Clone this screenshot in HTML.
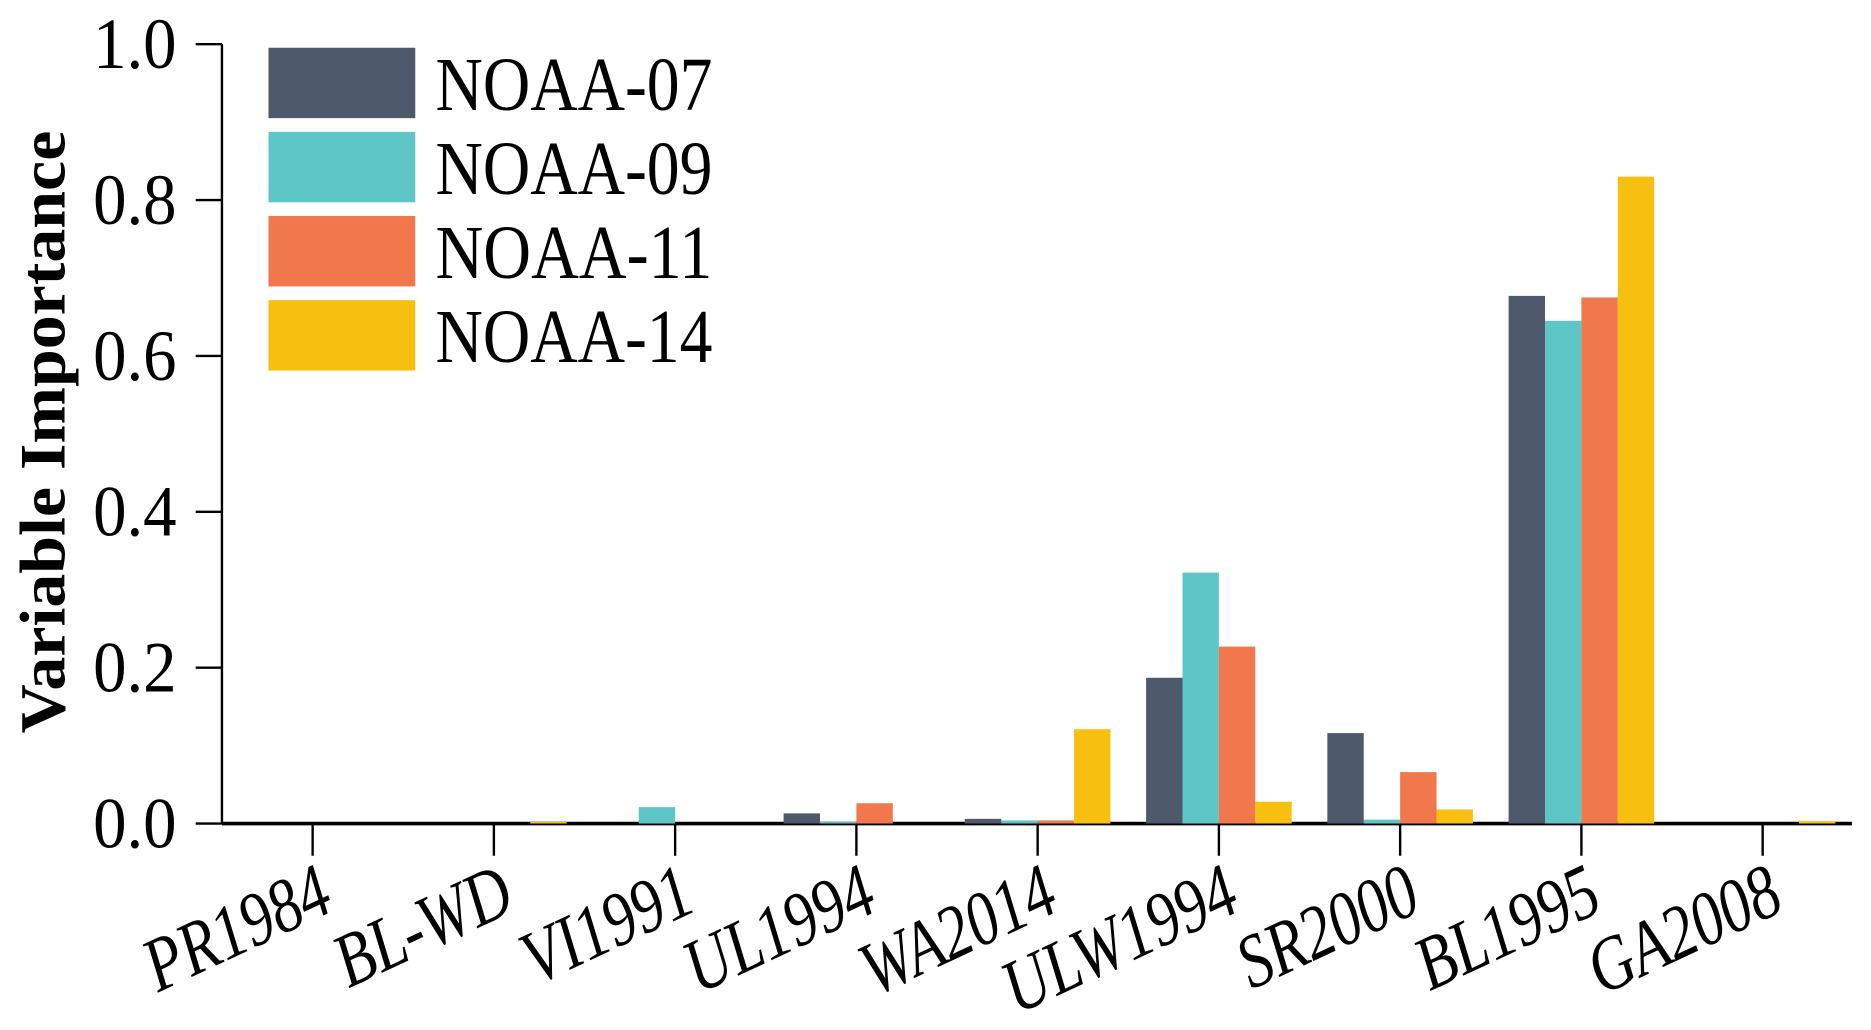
<!DOCTYPE html>
<html><head><meta charset="utf-8"><style>
html,body{margin:0;padding:0;background:#fff;}
svg{display:block;font-family:"Liberation Serif",serif;}
</style></head><body>
<svg id="chart" width="1871" height="1030" viewBox="0 0 1568 863" preserveAspectRatio="none" xmlns="http://www.w3.org/2000/svg">
<g id="axes"></g><g id="bars"></g><g id="legend"></g>
</svg>
<script>
const categories = ["PR1984","BL-WD","VI1991","UL1994","WA2014","ULW1994","SR2000","BL1995","GA2008"];
const seriesNames = ["NOAA-07","NOAA-09","NOAA-11","NOAA-14"];
const noaa07 = [0, 0, 0, 0.013, 0.006, 0.187, 0.116, 0.677, 0];
const noaa09 = [0, 0, 0.021, 0.002, 0.004, 0.322, 0.005, 0.645, 0];
const noaa11 = [0, 0, 0, 0.026, 0.004, 0.227, 0.066, 0.675, 0];
const noaa14 = [0, 0.002, 0, 0, 0.121, 0.028, 0.018, 0.830, 0.003];
const yTicks = [0.0, 0.2, 0.4, 0.6, 0.8, 1.0];
const yTickLabels = ["0.0","0.2","0.4","0.6","0.8","1.0"];
const colors = ["#4e596b","#5fc6c8","#f1774c","#f7bf10"];

const NS = "http://www.w3.org/2000/svg";
const X0 = 186, XR = 1552, Y0 = 690, Y1 = 37;
const firstTick = 262, step = 151.9, barW = 30.5;
function yScale(v){ return Y0 - v * (Y0 - Y1); }
function xScale(i){ return firstTick + i * step; }
function mk(tag, attrs, parent){ const e = document.createElementNS(NS, tag); for (const k in attrs) e.setAttribute(k, attrs[k]); parent.appendChild(e); return e; }

const axes = document.getElementById('axes');
const bars = document.getElementById('bars');
const legend = document.getElementById('legend');

const ya = mk('line', {x1:X0, y1:Y1, x2:X0, y2:Y0, stroke:'#000','stroke-width':2}, axes);


yTicks.forEach((t, i) => {
  const y = yScale(t);
  const tk = mk('line', {x1:164, y1:y, x2:X0, y2:y, stroke:'#000','stroke-width':2}, axes);
  
  
  const lb = mk('text', {x:78, y:y+20, 'font-size':60, fill:'#000', textLength:70, lengthAdjust:'spacingAndGlyphs'}, axes);
  lb.textContent = yTickLabels[i];
  
  
});
const yt = mk('text', {x:0, y:0, 'text-anchor':'middle', 'font-size':54, 'font-weight':'bold', fill:'#000', transform:'translate(54,362) rotate(-90)', textLength:505, lengthAdjust:'spacingAndGlyphs'}, axes);
yt.textContent = 'Variable Importance';



const series = [noaa07, noaa09, noaa11, noaa14];
series.forEach((vals, s) => {
  vals.forEach((v, i) => {
    if (v <= 0) return;
    const x = xScale(i) - 2 * barW + s * barW;
    const y = yScale(v);
    const r = mk('rect', {x:x, y:y, width:barW, height:Y0 - y, fill:colors[s]}, bars);
    
    
  });
});

const xa = mk('line', {x1:X0, y1:Y0, x2:XR, y2:Y0, stroke:'#000','stroke-width':3}, axes);


categories.forEach((c, i) => {
  const x = xScale(i);
  const tk = mk('line', {x1:x, y1:Y0, x2:x, y2:717, stroke:'#000','stroke-width':2}, axes);
  
  
  const lb = mk('text', {x:0, y:0, 'text-anchor':'end', 'font-size':64, 'font-style':'italic', fill:'#000', transform:'translate(' + (x + 20) + ',762) rotate(-25) scale(0.8,1)'}, axes);
  lb.textContent = c;
  
  
});

seriesNames.forEach((n, s) => {
  const y = 40 + s * 70.5;
  const sw = mk('rect', {x:225, y:y, width:123, height:59, fill:colors[s]}, legend);
  
  
  const t = mk('text', {x:365, y:y + 52, 'font-size':64, fill:'#000', textLength:232, lengthAdjust:'spacingAndGlyphs'}, legend);
  t.textContent = n;
  
  
});
</script>
</body></html>
